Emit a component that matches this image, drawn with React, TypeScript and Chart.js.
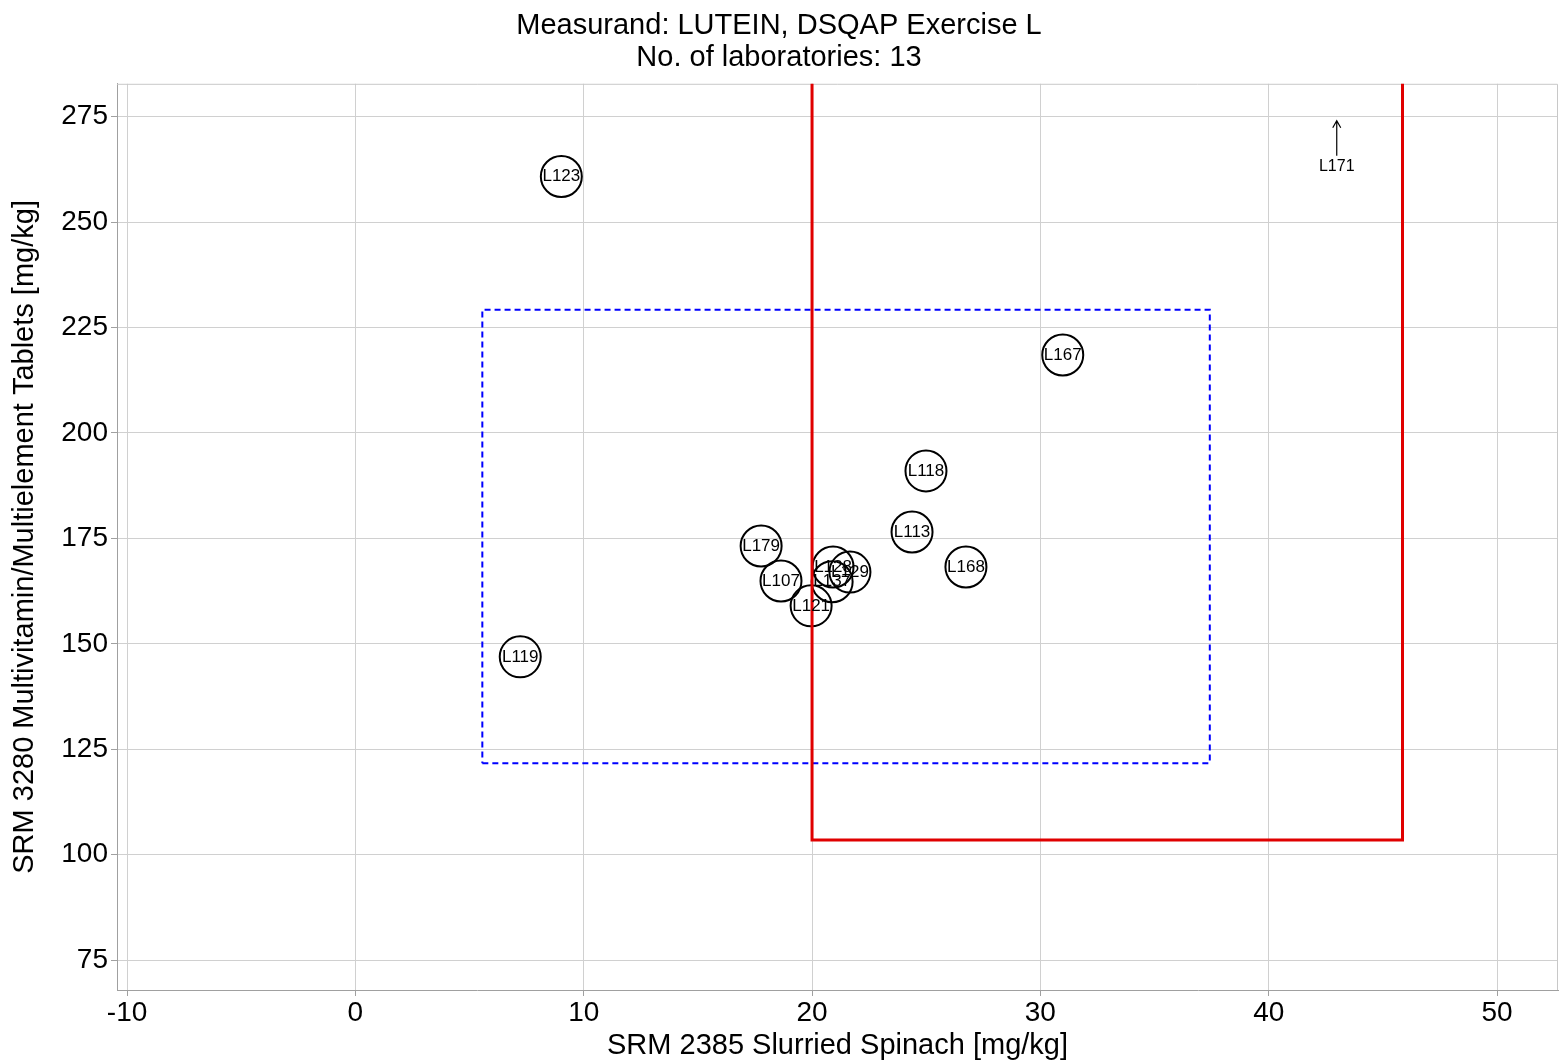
import React, { useEffect, useRef } from "react";
import { Chart, registerables } from "chart.js";

Chart.register(...registerables);

const FONT = "'Liberation Sans', Arial, sans-serif";

const titleLines = ["Measurand: LUTEIN, DSQAP Exercise L", "No. of laboratories: 13"];
const xAxisTitle = "SRM 2385 Slurried Spinach [mg/kg]";
const yAxisTitle = "SRM 3280 Multivitamin/Multielement Tablets [mg/kg]";

const labNames = ["L107", "L113", "L118", "L119", "L121", "L123", "L129", "L128", "L137", "L167", "L168", "L179"];
const spinachValues = [18.64, 24.38, 24.99, 7.22, 19.96, 9.02, 21.66, 20.92, 20.88, 30.98, 26.74, 17.77];
const tabletValues = [164.9, 176.5, 191.0, 146.9, 159.0, 260.8, 167.0, 168.2, 164.7, 218.5, 168.2, 173.2];

const offScaleNames = ["L171"];
const offScaleSpinach = [42.98];

const consensusBoxX = [5.56, 37.42];
const consensusBoxY = [121.7, 229.2];

const targetX = [20.0, 45.86];
const targetYLow = 103.5;
const targetYHigh = 400;

const xRange = [-10.44, 52.67];
const yRange = [67.9, 282.8];
const xStep = 10;
const yStep = 25;

const labelPlugin = {
  id: "labLabels",
  beforeDatasetsDraw(chart: any) {
    const ctx = chart.ctx;
    const a = chart.chartArea;
    ctx.save();
    ctx.strokeStyle = "#c8c8c8";
    ctx.lineWidth = 1;
    ctx.beginPath();
    ctx.moveTo(a.left, a.top + 0.5);
    ctx.lineTo(a.right - 0.5, a.top + 0.5);
    ctx.lineTo(a.right - 0.5, a.bottom);
    ctx.stroke();
    ctx.restore();
  },
  afterDatasetsDraw(chart: any) {
    const ctx = chart.ctx;
    const xs = chart.scales.x;
    const area = chart.chartArea;
    ctx.save();
    ctx.fillStyle = "#000";
    ctx.textAlign = "center";
    ctx.textBaseline = "middle";
    ctx.font = `17px ${FONT}`;
    const meta = chart.getDatasetMeta(2);
    meta.data.forEach((el: any, i: number) => {
      ctx.fillText(labNames[i], el.x, el.y);
    });
    ctx.strokeStyle = "#000";
    ctx.lineWidth = 1.2;
    ctx.font = `16px ${FONT}`;
    offScaleNames.forEach((name, i) => {
      const px = xs.getPixelForValue(offScaleSpinach[i]);
      const tip = area.top + 37;
      const tail = area.top + 72;
      ctx.beginPath();
      ctx.moveTo(px, tail);
      ctx.lineTo(px, tip);
      ctx.moveTo(px - 4, tip + 7);
      ctx.lineTo(px, tip);
      ctx.lineTo(px + 4, tip + 7);
      ctx.stroke();
      ctx.fillText(name, px, area.top + 83);
    });
    ctx.restore();
  },
};

export default function App() {
  const ref = useRef<HTMLCanvasElement>(null);
  useEffect(() => {
    if (!ref.current) return;
    const redPts = [
      { x: targetX[0], y: targetYHigh },
      { x: targetX[0], y: targetYLow },
      { x: targetX[1], y: targetYLow },
      { x: targetX[1], y: targetYHigh },
    ];
    const bluePts = [
      { x: consensusBoxX[0], y: consensusBoxY[0] },
      { x: consensusBoxX[1], y: consensusBoxY[0] },
      { x: consensusBoxX[1], y: consensusBoxY[1] },
      { x: consensusBoxX[0], y: consensusBoxY[1] },
      { x: consensusBoxX[0], y: consensusBoxY[0] },
    ];
    const labPts = spinachValues.map((v, i) => ({ x: v, y: tabletValues[i] }));
    const chart = new Chart(ref.current, {
      type: "scatter",
      data: {
        datasets: [
          {
            data: redPts,
            showLine: true,
            borderColor: "#e00000",
            borderWidth: 3,
            pointRadius: 0,
            tension: 0,
          },
          {
            data: bluePts,
            showLine: true,
            borderColor: "#0000ff",
            borderWidth: 2,
            borderDash: [6, 4],
            pointRadius: 0,
            tension: 0,
          },
          {
            data: labPts,
            showLine: false,
            pointRadius: 20.5,
            borderWidth: 2,
            borderColor: "#000",
            backgroundColor: "rgba(0,0,0,0)",
          },
        ],
      },
      options: {
        animation: false,
        responsive: false,
        maintainAspectRatio: false,
        layout: { autoPadding: false, padding: { left: 0, right: 2, top: 0, bottom: 0 } },
        plugins: {
          legend: { display: false },
          tooltip: { enabled: false },
          title: {
            display: true,
            text: titleLines,
            color: "#000",
            font: { family: FONT, size: 29, weight: "normal", lineHeight: 1.1 },
            padding: { top: 10, bottom: 10 },
          },
        },
        scales: {
          x: {
            type: "linear",
            min: xRange[0],
            max: xRange[1],
            afterFit: (s: any) => {
              s.height = 74;
              s.paddingLeft = 0;
              s.paddingRight = 0;
            },
            ticks: {
              stepSize: xStep,
              includeBounds: false,
              color: "#000",
              font: { family: FONT, size: 28 },
              padding: 0,
              maxRotation: 0,
            },
            grid: { color: "#d0d0d0", lineWidth: 1, tickLength: 6, tickColor: "#a0a0a0" },
            border: { color: "#a0a0a0", width: 1 },
            title: {
              display: true,
              text: xAxisTitle,
              color: "#000",
              font: { family: FONT, size: 29 },
              padding: { top: 0, bottom: 1 },
            },
          },
          y: {
            type: "linear",
            min: yRange[0],
            max: yRange[1],
            afterFit: (s: any) => {
              s.width = 117;
              s.paddingTop = 0;
              s.paddingBottom = 0;
            },
            ticks: {
              stepSize: yStep,
              includeBounds: false,
              color: "#000",
              font: { family: FONT, size: 28 },
              padding: 3,
            },
            grid: { color: "#d0d0d0", lineWidth: 1, tickLength: 6, tickColor: "#a0a0a0" },
            border: { color: "#a0a0a0", width: 1 },
            title: {
              display: true,
              text: yAxisTitle,
              color: "#000",
              font: { family: FONT, size: 29 },
              padding: { top: 8, bottom: 0 },
            },
          },
        },
      },
      plugins: [labelPlugin],
    });
    return () => chart.destroy();
  }, []);
  return (
    <div style={{ position: "fixed", left: 0, top: 0, width: 1560, height: 1064, background: "#fff" }}>
      <canvas ref={ref} width={1560} height={1064} style={{ width: 1560, height: 1064 }} />
    </div>
  );
}
